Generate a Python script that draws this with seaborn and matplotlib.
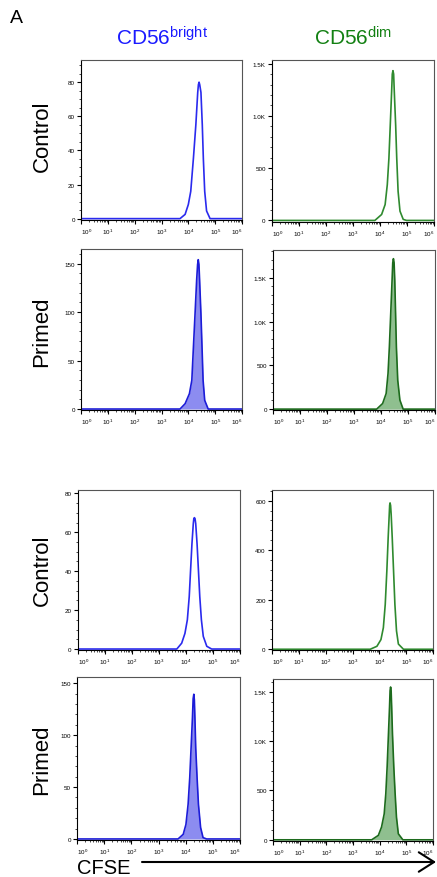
import numpy as np
import matplotlib
matplotlib.use("Agg")
import matplotlib.pyplot as plt
import seaborn as sns
from matplotlib.ticker import FixedLocator, LogLocator, MultipleLocator, NullFormatter, FuncFormatter
from matplotlib.patches import FancyArrowPatch

# ---------------- data (log10 CFSE intensity, cell count) ----------------
ctrl_bright_1_logx = [0.0, 3.69, 3.88, 4.00, 4.09, 4.19, 4.28, 4.35, 4.375, 4.40, 4.425, 4.47, 4.52, 4.56, 4.61, 4.68, 4.81, 6.0]
ctrl_bright_1_count = [0, 0, 2.5, 8.3, 16, 35.5, 55, 74, 78.5, 80, 78.5, 74, 55, 35, 16, 4.5, 0, 0]

ctrl_dim_1_logx = [0.0, 3.81, 4.06, 4.19, 4.27, 4.33, 4.38, 4.43, 4.455, 4.48, 4.505, 4.53, 4.58, 4.62, 4.67, 4.74, 4.86, 4.98, 6.0]
ctrl_dim_1_count = [0, 0, 57, 152, 342, 595, 911, 1228, 1400, 1433, 1400, 1228, 911, 595, 279, 89, 10, 0, 0]

prim_bright_1_logx = [0.0, 3.69, 3.88, 4.04, 4.13, 4.19, 4.25, 4.31, 4.345, 4.37, 4.395, 4.42, 4.47, 4.51, 4.55, 4.61, 4.74, 6.0]
prim_bright_1_count = [0, 0, 5.5, 15.8, 29.6, 64, 98, 133, 149, 154, 149, 133, 98, 64, 29.6, 9, 0, 0]

prim_dim_1_logx = [0.0, 3.84, 4.06, 4.19, 4.26, 4.31, 4.36, 4.41, 4.435, 4.46, 4.485, 4.51, 4.54, 4.57, 4.62, 4.70, 4.82, 6.0]
prim_dim_1_count = [0, 0, 64, 178, 406, 710, 1090, 1471, 1670, 1717, 1670, 1471, 1090, 710, 330, 103, 0, 0]

ctrl_bright_2_logx = [0.0, 3.66, 3.84, 3.96, 4.05, 4.12, 4.17, 4.22, 4.27, 4.29, 4.31, 4.335, 4.36, 4.41, 4.46, 4.51, 4.57, 4.64, 4.77, 4.95, 6.0]
ctrl_bright_2_count = [0, 0, 3, 8, 15, 27, 40.6, 54, 64.4, 67, 67.5, 67, 64.4, 54, 40.6, 27, 15, 6.5, 1.4, 0, 0]

ctrl_dim_2_logx = [0.0, 3.66, 3.91, 4.06, 4.15, 4.22, 4.28, 4.33, 4.37, 4.385, 4.40, 4.42, 4.44, 4.48, 4.53, 4.58, 4.64, 4.71, 4.90, 6.0]
ctrl_dim_2_count = [0, 0, 12, 39, 87, 181, 317, 452, 547, 582, 591, 580, 547, 452, 317, 181, 74, 21, 0, 0]

prim_bright_2_logx = [0.0, 3.72, 3.91, 4.01, 4.09, 4.15, 4.20, 4.25, 4.275, 4.30, 4.32, 4.34, 4.37, 4.42, 4.47, 4.55, 4.64, 4.77, 6.0]
prim_bright_2_count = [0, 0, 4.5, 14, 33.5, 59, 88, 117, 135, 139.4, 134, 117, 88, 59, 33.5, 11, 1.3, 0, 0]

prim_dim_2_logx = [0.0, 3.70, 3.95, 4.07, 4.17, 4.23, 4.28, 4.33, 4.37, 4.39, 4.41, 4.43, 4.45, 4.48, 4.53, 4.58, 4.63, 4.70, 4.87, 6.0]
prim_dim_2_count = [0, 0, 45, 129, 263, 466, 737, 1074, 1345, 1510, 1547, 1510, 1345, 1074, 737, 466, 230, 61, 0, 0]

column_titles = ["CD56$^{\\mathrm{bright}}$", "CD56$^{\\mathrm{dim}}$"]
row_labels = ["Control", "Primed", "Control", "Primed"]
x_tick_decades = [0, 1, 2, 3, 4, 5, 6]
x_axis_label = "CFSE"
panel_letter = "A"

# ---------------- style ----------------
sns.set_style("ticks")
plt.rcParams['font.family'] = ['Liberation Sans', 'DejaVu Sans']
plt.rcParams['mathtext.fontset'] = 'custom'
plt.rcParams['mathtext.rm'] = 'Liberation Sans'
plt.rcParams['mathtext.it'] = 'Liberation Sans:italic'
plt.rcParams['mathtext.bf'] = 'Liberation Sans:bold'
plt.rcParams['text.color'] = 'black'
plt.rcParams['xtick.color'] = 'black'
plt.rcParams['ytick.color'] = 'black'

W, H = 437, 878
fig = plt.figure(figsize=(W / 100, H / 100), dpi=100)
fig.patch.set_facecolor("white")

BLUE_LINE = "#2a2aee"
BLUE_DARK = "#1c1cd8"
BLUE_FILL = "#8c8cf0"
GREEN_LINE = "#2f8a2f"
GREEN_DARK = "#1d6b1d"
GREEN_FILL = "#8fbf8f"


def px_axes(x0, y0, x1, y1):
    return fig.add_axes([x0 / W, 1 - y1 / H, (x1 - x0) / W, (y1 - y0) / H])


def yfmt(v, pos):
    if abs(v) >= 1000:
        return f"{v / 1000:.1f}K"
    return f"{int(round(v))}"


panels = [
    (ctrl_bright_1_logx, ctrl_bright_1_count, BLUE_LINE, None, (-0.8, 93), 20, 5, (81, 61, 242, 221)),
    (ctrl_dim_1_logx, ctrl_dim_1_count, GREEN_LINE, None, (-15, 1535), 500, 100, (272, 61, 434, 223)),
    (prim_bright_1_logx, prim_bright_1_count, BLUE_DARK, BLUE_FILL, (-1, 165), 50, 10, (81, 250, 242, 411)),
    (prim_dim_1_logx, prim_dim_1_count, GREEN_DARK, GREEN_FILL, (-10, 1816), 500, 100, (273, 251, 435, 411)),
    (ctrl_bright_2_logx, ctrl_bright_2_count, BLUE_LINE, None, (-0.5, 81.7), 20, 5, (78, 491, 240, 651)),
    (ctrl_dim_2_logx, ctrl_dim_2_count, GREEN_LINE, None, (-3, 643), 200, 40, (272, 491, 433, 651)),
    (prim_bright_2_logx, prim_bright_2_count, BLUE_DARK, BLUE_FILL, (-1, 156), 50, 10, (77, 678, 240, 841)),
    (prim_dim_2_logx, prim_dim_2_count, GREEN_DARK, GREEN_FILL, (-12, 1628), 500, 100, (273, 680, 433, 842)),
]

for logx, cnt, lc, fc, ylim, major, minor, rect in panels:
    ax = px_axes(*rect)
    xs = 10.0 ** np.asarray(logx)
    ys = np.asarray(cnt, dtype=float)
    if fc is not None:
        ax.fill_between(xs, ys, 0, color=fc, lw=0, zorder=1)
    sns.lineplot(x=xs, y=ys, ax=ax, color=lc, lw=1.2, zorder=2)
    ax.set_xscale("log")
    ax.set_xlim(1, 1e6)
    ax.set_ylim(*ylim)
    ax.set_xlabel("")
    ax.set_ylabel("")
    ax.xaxis.set_major_locator(FixedLocator([10.0 ** d for d in x_tick_decades]))
    ax.xaxis.set_minor_locator(LogLocator(base=10, subs=np.arange(2, 10), numticks=20))
    ax.xaxis.set_minor_formatter(NullFormatter())
    ax.set_xticklabels([f"$10^{{{d}}}$" for d in x_tick_decades])
    tl = ax.get_xticklabels()
    tl[0].set_horizontalalignment("left")
    tl[-1].set_horizontalalignment("right")
    ax.yaxis.set_major_locator(MultipleLocator(major))
    ax.yaxis.set_minor_locator(MultipleLocator(minor))
    ax.yaxis.set_major_formatter(FuncFormatter(yfmt))
    ax.tick_params(which="major", direction="out", length=3, width=0.8, labelsize=4.5, pad=1.5,
                   bottom=True, left=True, top=False, right=False, colors="black")
    ax.tick_params(which="minor", direction="out", length=1.6, width=0.5,
                   bottom=True, left=True, top=False, right=False)
    for side in ["left", "bottom"]:
        ax.spines[side].set_color("black")
        ax.spines[side].set_linewidth(0.8)
    for side in ["top", "right"]:
        ax.spines[side].set_color("#555555")
        ax.spines[side].set_linewidth(0.8)
        ax.spines[side].set_visible(True)

# ---------------- text ----------------
fig.text(10 / W, 1 - 23 / H, panel_letter, fontsize=14, ha="left", va="baseline")
fig.text(162 / W, 1 - 45 / H, column_titles[0], fontsize=15, color="#1a1aff", ha="center", va="baseline")
fig.text(353 / W, 1 - 45 / H, column_titles[1], fontsize=15, color="#128012", ha="center", va="baseline")

for lab, yc in zip(row_labels, [136, 332, 570, 760]):
    fig.text(42 / W, 1 - yc / H, lab, fontsize=16, rotation=90, ha="center", va="center", color="black")

fig.text(77 / W, 1 - 874 / H, x_axis_label, fontsize=14.5, ha="left", va="baseline", color="black")

arrow = FancyArrowPatch(posA=(142 / W, 1 - 863 / H), posB=(436 / W, 1 - 863 / H),
                        transform=fig.transFigure, arrowstyle="->,head_length=11,head_width=7",
                        mutation_scale=1, lw=1.5, color="black", shrinkA=0, shrinkB=0)
fig.add_artist(arrow)

fig.savefig("out.png", dpi=100, facecolor="white")
